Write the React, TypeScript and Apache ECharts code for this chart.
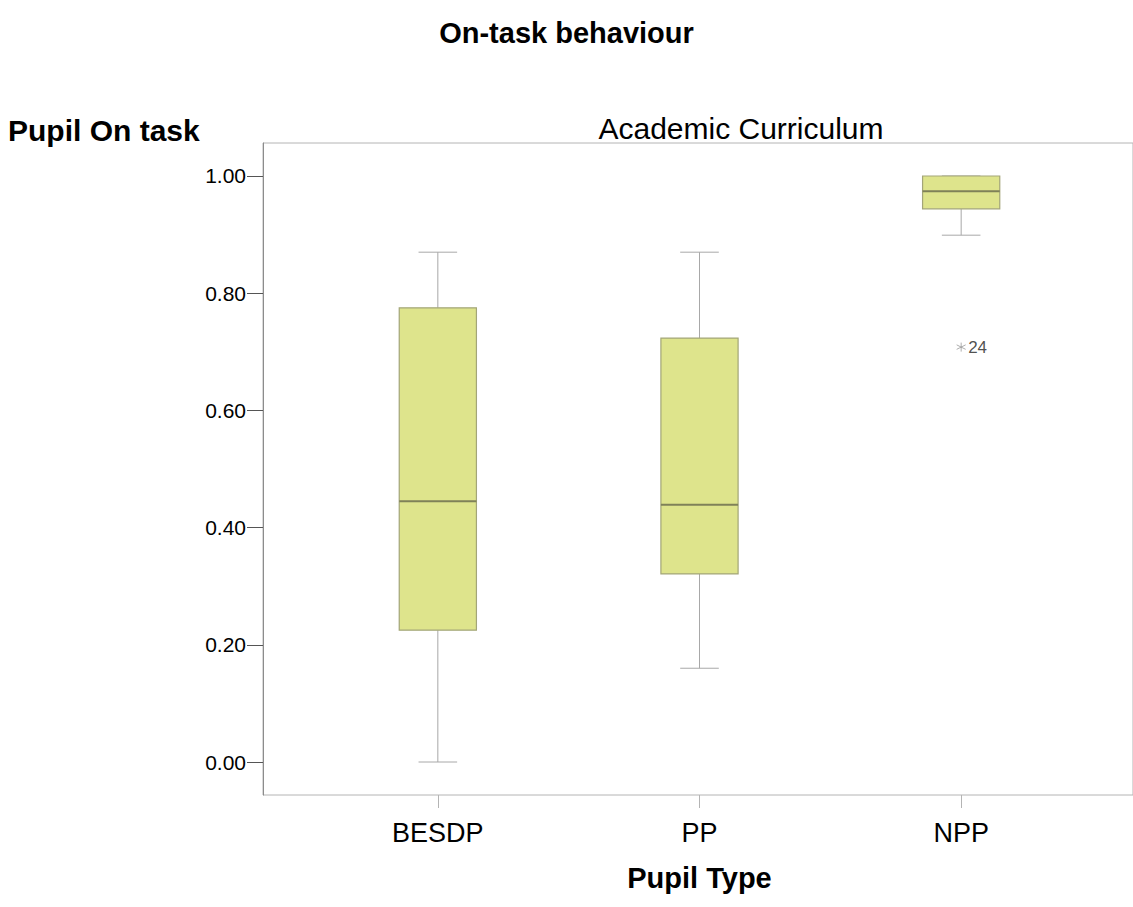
import React, { useEffect, useRef } from "react";
import * as echarts from "echarts";

const categories = ["BESDP", "PP", "NPP"];
// [min, Q1, median, Q3, max]
const boxMin = [0.0, 0.16, 0.899];
const boxQ1 = [0.225, 0.321, 0.944];
const boxMedian = [0.445, 0.439, 0.974];
const boxQ3 = [0.775, 0.7235, 1.0];
const boxMax = [0.87, 0.87, 1.0];
const outlierCategory = ["NPP"];
const outlierValue = [0.708];
const outlierLabel = ["24"];
const yTicks = [0, 0.2, 0.4, 0.6, 0.8, 1.0];

const FONT = "'Liberation Sans', Arial, Helvetica, sans-serif";

export default function App() {
  const ref = useRef<HTMLDivElement>(null);

  useEffect(() => {
    if (!ref.current) return;
    const chart = echarts.init(ref.current, null, { renderer: "svg" });

    const yMin = -0.0563;
    const yMax = 1.0563;

    const boxData = categories.map((c, i) => [
      i,
      boxMin[i],
      boxQ1[i],
      boxMedian[i],
      boxQ3[i],
      boxMax[i],
    ]);

    const outData = outlierCategory.map((c, i) => ({
      value: [categories.indexOf(c), outlierValue[i]],
      label: outlierLabel[i],
    }));

    const option: any = {
      animation: false,
      backgroundColor: "#ffffff",
      title: {
        text: "On-task behaviour",
        left: "center",
        top: 13,
        textStyle: {
          fontFamily: FONT,
          fontSize: 29,
          fontWeight: "bold",
          color: "#000",
        },
      },
      grid: [
        {
          left: 263,
          right: -20,
          top: 143,
          bottom: 112,
          show: true,
          borderColor: "#b4b4b4",
          borderWidth: 1,
          backgroundColor: "transparent",
        },
        {
          left: 307,
          right: 41,
          top: 143,
          bottom: 112,
        },
      ],
      xAxis: [
        {
          gridIndex: 0,
          type: "value",
          show: false,
        },
        {
          gridIndex: 1,
          type: "category",
          data: categories,
          boundaryGap: true,
          position: "bottom",
          axisLine: { show: false, onZero: false },
          axisTick: {
            show: true,
            inside: false,
            alignWithLabel: true,
            length: 13,
            lineStyle: { color: "#b4b4b4" },
          },
          axisLabel: {
            fontFamily: FONT,
            fontSize: 27,
            color: "#000",
            margin: 24,
          },
          name: "Pupil Type",
          nameLocation: "middle",
          nameGap: 68,
          nameTextStyle: {
            fontFamily: FONT,
            fontSize: 29,
            fontWeight: "bold",
            color: "#000",
          },
          splitLine: { show: false },
        },
      ],
      yAxis: [
        {
          gridIndex: 0,
          type: "value",
          min: yMin,
          max: yMax,
          axisLine: { show: true, onZero: false, lineStyle: { color: "#8c8c8c" } },
          axisTick: {
            show: true,
            length: 16,
            customValues: yTicks,
            lineStyle: { color: "#555" },
          },
          axisLabel: {
            customValues: yTicks,
            fontFamily: FONT,
            fontSize: 21,
            color: "#000",
            margin: 17,
            formatter: (v: number) => v.toFixed(2),
          },
          splitLine: { show: false },
        },
        {
          gridIndex: 1,
          type: "value",
          min: yMin,
          max: yMax,
          show: false,
          splitLine: { show: false },
        },
      ],
      graphic: [
        {
          type: "text",
          left: 8,
          top: 115,
          style: {
            text: "Pupil On task",
            fontFamily: FONT,
            fontSize: 30,
            fontWeight: "bold",
            fill: "#000",
          },
        },
        {
          type: "text",
          x: 741,
          y: 128,
          style: {
            text: "Academic Curriculum",
            fontFamily: FONT,
            fontSize: 30,
            fill: "#000",
            align: "center",
            verticalAlign: "middle",
          },
        },
      ],
      series: [
        {
          type: "custom",
          xAxisIndex: 1,
          yAxisIndex: 1,
          data: boxData,
          encode: { x: 0, y: [1, 2, 3, 4, 5] },
          renderItem: (params: any, api: any) => {
            const idx = api.value(0);
            const vMin = api.value(1);
            const vQ1 = api.value(2);
            const vMed = api.value(3);
            const vQ3 = api.value(4);
            const vMax = api.value(5);
            const pMin = api.coord([idx, vMin]);
            const pQ1 = api.coord([idx, vQ1]);
            const pMed = api.coord([idx, vMed]);
            const pQ3 = api.coord([idx, vQ3]);
            const pMax = api.coord([idx, vMax]);
            const band = api.size([1, 0])[0];
            const bw = band * 0.295;
            const cw = bw * 0.5;
            const cx = pMed[0];
            const whisker = { stroke: "#a8a8a8", lineWidth: 1 };
            const children: any[] = [];
            if (pMax[1] < pQ3[1] - 0.5) {
              children.push({
                type: "line",
                shape: { x1: cx, y1: pQ3[1], x2: cx, y2: pMax[1] },
                style: whisker,
              });
            }
            children.push({
              type: "line",
              shape: { x1: cx - cw / 2, y1: pMax[1], x2: cx + cw / 2, y2: pMax[1] },
              style: whisker,
            });
            children.push({
              type: "line",
              shape: { x1: cx, y1: pQ1[1], x2: cx, y2: pMin[1] },
              style: whisker,
            });
            children.push({
              type: "line",
              shape: { x1: cx - cw / 2, y1: pMin[1], x2: cx + cw / 2, y2: pMin[1] },
              style: whisker,
            });
            children.push({
              type: "rect",
              shape: {
                x: cx - bw / 2,
                y: pQ3[1],
                width: bw,
                height: pQ1[1] - pQ3[1],
              },
              style: { fill: "#dee48c", stroke: "#a3a578", lineWidth: 1.2 },
            });
            children.push({
              type: "line",
              shape: { x1: cx - bw / 2, y1: pMed[1], x2: cx + bw / 2, y2: pMed[1] },
              style: { stroke: "#7f8158", lineWidth: 1.8 },
            });
            return { type: "group", children };
          },
        },
        {
          type: "scatter",
          xAxisIndex: 1,
          yAxisIndex: 1,
          data: outData.map((d) => d.value),
          symbol: "path://M5,0L5,10M0.7,2.5L9.3,7.5M0.7,7.5L9.3,2.5",
          symbolSize: 9,
          itemStyle: {
            color: "rgba(0,0,0,0)",
            borderColor: "#9a9a9a",
            borderWidth: 1,
          },
          label: {
            show: true,
            position: "right",
            distance: 2,
            formatter: (p: any) => outData[p.dataIndex].label,
            fontFamily: FONT,
            fontSize: 17,
            color: "#222",
          },
        },
      ],
    };

    chart.setOption(option);
    return () => chart.dispose();
  }, []);

  return (
    <div
      ref={ref}
      style={{
        position: "fixed",
        left: 0,
        top: 0,
        width: 1133,
        height: 907,
        background: "#fff",
      }}
    />
  );
}
